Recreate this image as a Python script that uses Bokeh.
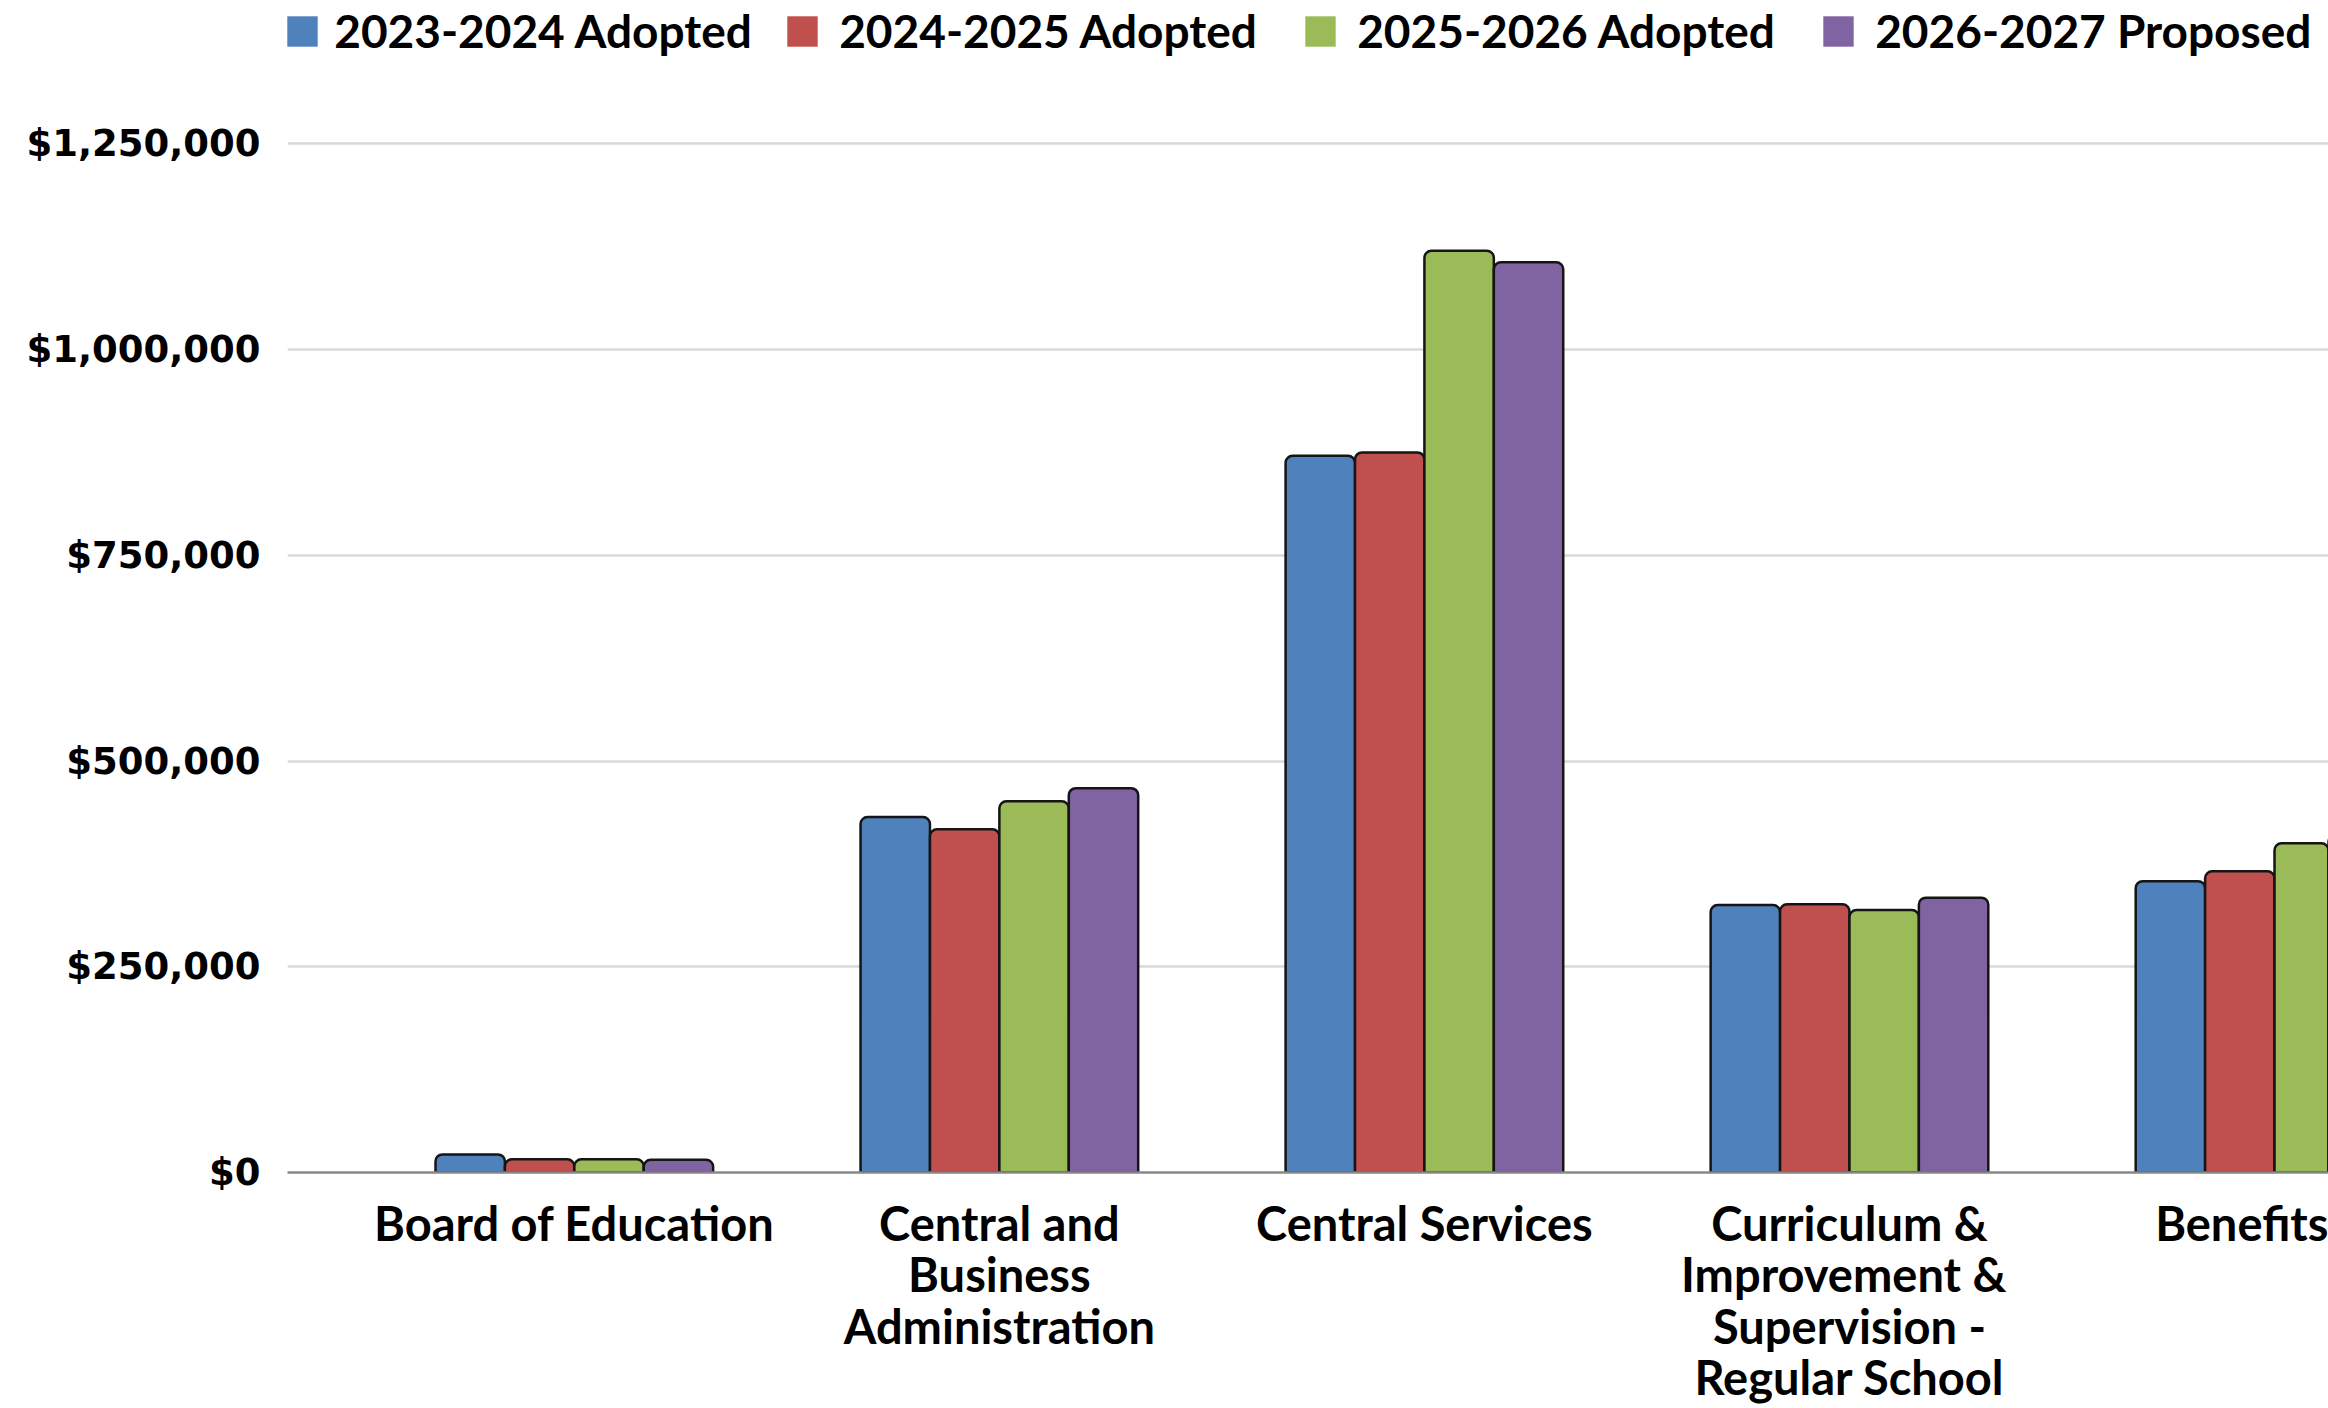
from bokeh.plotting import figure
from bokeh.models import ColumnDataSource, FixedTicker, NumeralTickFormatter, Legend, LegendItem, Range1d
from bokeh.transform import dodge
from bokeh.embed import file_html
from bokeh.resources import INLINE

# ---- data ----
categories = [
    "Board of Education",
    "Central and\nBusiness\nAdministration",
    "Central Services",
    "Curriculum &\nImprovement  &\nSupervision -\nRegular School",
    "Benefits",
]
series = ["2023-2024 Adopted", "2024-2025 Adopted", "2025-2026 Adopted", "2026-2027 Proposed"]
v_2023_2024 = [22000, 432000, 871000, 325000, 354000]
v_2024_2025 = [16000, 417000, 875000, 326000, 366000]
v_2025_2026 = [16000, 451000, 1120000, 319000, 400000]
v_2026_2027 = [15500, 467000, 1106000, 334000, 410000]
y_ticks = [0, 250000, 500000, 750000, 1000000, 1250000]

colors = ["#4F81BD", "#C0504D", "#9BBB59", "#8064A2"]

idx = list(range(len(categories)))
src = ColumnDataSource(dict(idx=idx, s0=v_2023_2024, s1=v_2024_2025, s2=v_2025_2026, s3=v_2026_2027))

W, H = 2328, 1408
p = figure(width=W, height=H, output_backend="svg", toolbar_location=None,
           x_range=Range1d(-0.6748, 4.127), y_range=Range1d(0, 1424200),
           min_border_left=287, min_border_right=0, min_border_top=0, min_border_bottom=235)
p.outline_line_color = None
p.background_fill_color = "white"
p.border_fill_color = "white"

bw = 0.1633
for k in range(4):
    p.vbar(x=dodge("idx", (k - 1.5) * bw, range=p.x_range), top="s%d" % k, bottom=0, width=bw,
           source=src, fill_color=colors[k], line_color="#151515", line_width=2.5,
           border_radius=(7, 7, 0, 0))

# axes
p.yaxis.ticker = FixedTicker(ticks=y_ticks)
p.yaxis.formatter = NumeralTickFormatter(format="$0,0")
p.yaxis.axis_line_color = None
p.yaxis.major_tick_line_color = None
p.yaxis.minor_tick_line_color = None
p.yaxis.major_tick_out = 0
p.yaxis.major_tick_in = 0
p.yaxis.major_label_standoff = 27
p.yaxis.major_label_text_font = "DejaVu Sans"
p.yaxis.major_label_text_font_style = "bold"
p.yaxis.major_label_text_font_size = "37px"
p.yaxis.major_label_text_color = "black"

p.xaxis.ticker = FixedTicker(ticks=idx)
p.xaxis.major_label_overrides = {i: categories[i] for i in idx}
p.xaxis.axis_line_color = "#888888"
p.xaxis.axis_line_width = 2.5
p.xaxis.major_tick_line_color = None
p.xaxis.minor_tick_line_color = None
p.xaxis.major_tick_out = 0
p.xaxis.major_tick_in = 0
p.xaxis.major_label_standoff = 22
p.xaxis.major_label_text_font = "Lato"
p.xaxis.major_label_text_font_style = "bold"
p.xaxis.major_label_text_font_size = "47px"
p.xaxis.major_label_text_line_height = 0.92
p.xaxis.major_label_text_color = "black"

p.xgrid.grid_line_color = None
p.ygrid.grid_line_color = "#D9D9D9"
p.ygrid.grid_line_width = 2.5

# legend: one legend per entry, placed across the top
# (zero-size swatch renderers so the legend squares carry no outline)
for k in range(4):
    swatch = p.rect(x=[idx[0]], y=[y_ticks[0]], width=0, height=0,
                    fill_color=colors[k], line_color=None)
    x0 = -3.8 if k == 0 else -21.8 + 518 * k
    standoff = 13 if k == 0 else 18
    lg = Legend(items=[LegendItem(label=series[k], renderers=[swatch])],
                location=(x0, 1114), orientation="horizontal",
                glyph_width=38, glyph_height=38, label_standoff=standoff,
                padding=0, margin=0, spacing=0,
                border_line_color=None, background_fill_alpha=0,
                label_text_font="Lato", label_text_font_style="bold",
                label_text_font_size="46px", label_text_color="black")
    p.add_layout(lg, "center")

open("out.html", "w").write(file_html(p, INLINE))
